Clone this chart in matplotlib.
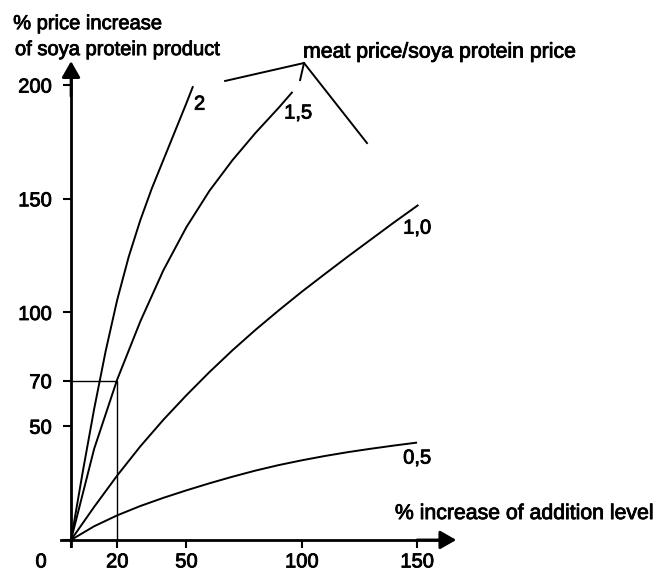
import matplotlib
matplotlib.use("Agg")
import matplotlib.pyplot as plt
import matplotlib.patheffects as pe

# curves: % increase of addition level -> % price increase
ratio_labels = ["2", "1,5", "1,0", "0,5"]
x_r20 = [0, 5, 10, 15, 20, 25, 30, 35, 40, 45, 50, 52.9]
y_r20 = [0, 29.5, 57.5, 83, 105.5, 124.5, 140.5, 154.5, 167, 179.5, 192, 199.5]
x_r15 = [0, 10, 20, 30, 40, 50, 60, 70, 80, 90, 96]
y_r15 = [0, 40, 70.5, 96, 118.5, 137.5, 153.5, 167, 179, 190, 197]
x_r10 = [0, 10, 20, 30, 40, 50, 60, 70, 80, 90, 100, 110, 120, 130, 140, 150.6]
y_r10 = [0, 14.5, 28.3, 41.1, 52.8, 63.6, 73.8, 83.4, 92.4, 100.9, 109.1, 116.9,
         124.6, 132.1, 139.6, 147.3]
x_r05 = [0, 10, 20, 30, 40, 50, 60, 70, 80, 90, 100, 110, 120, 130, 140, 150]
y_r05 = [0, 6, 10.8, 14.9, 18.5, 21.8, 24.9, 27.8, 30.5, 32.9, 35, 36.9, 38.6,
         40.1, 41.5, 42.8]

x_ticks = [0, 20, 50, 100, 150]
x_ticklabels = ["", "20", "50", "100", "150"]
y_ticks = [0, 50, 70, 100, 150, 200]
y_ticklabels = ["", "50", "70", "100", "150", "200"]

# worked example marked on the 1,5 curve
example_x = 20
example_y = 70

plt.rcParams["font.family"] = ["Liberation Sans", "DejaVu Sans"]
plt.rcParams["font.size"] = 14.5

# scanned print looks a bit heavier than the regular face
heavy = [pe.withStroke(linewidth=0.6, foreground="black")]

fig = plt.figure(figsize=(6.56, 5.72), dpi=100)
ax = fig.add_axes([0, 0, 1, 1])
ax.set_xlim(-30.8, 253.6)
ax.set_ylim(-14.1, 237.4)

for side in ["top", "right"]:
    ax.spines[side].set_visible(False)
ax.spines["left"].set_position(("data", 0))
ax.spines["bottom"].set_position(("data", 0))
ax.spines["left"].set_bounds(-2.5, 203)
ax.spines["bottom"].set_bounds(-4.5, 160)
for side in ["left", "bottom"]:
    ax.spines[side].set_linewidth(2.0)

ax.set_xticks(x_ticks)
ax.set_xticklabels(x_ticklabels)
ax.set_yticks(y_ticks)
ax.set_yticklabels(y_ticklabels)
ax.tick_params(axis="x", direction="out", length=6, width=1.5, pad=3)
ax.tick_params(axis="y", direction="out", length=6, width=1.5, pad=8)
for lab in ax.get_xticklabels() + ax.get_yticklabels():
    lab.set_path_effects(heavy)

arrow = dict(arrowstyle="-|>,head_length=0.7,head_width=0.4", mutation_scale=14,
             color="black", lw=2.0, shrinkA=0, shrinkB=0)
ax.annotate("", xy=(0, 210.5), xytext=(0, 195), arrowprops=arrow)
ax.annotate("", xy=(167, 0), xytext=(150, 0), arrowprops=arrow)

for xs, ys in [(x_r20, y_r20), (x_r15, y_r15), (x_r10, y_r10), (x_r05, y_r05)]:
    ax.plot(xs, ys, color="black", lw=1.4, solid_capstyle="butt",
            solid_joinstyle="round")

ax.plot([0, example_x, example_x], [example_y, example_y, 0], color="black", lw=1.0)

# curve labels
ax.text(53.3, 191.6, ratio_labels[0], va="center", ha="left", path_effects=heavy)
ax.text(98.4, 187.7, ratio_labels[1], va="center", ha="center", path_effects=heavy)
ax.text(150, 137.1, ratio_labels[2], va="center", ha="center", path_effects=heavy)
ax.text(150, 36, ratio_labels[3], va="center", ha="center", path_effects=heavy)

# leader lines to the curve family
ax.plot([66.8, 101, 128.3], [201.8, 209.7, 174.5], color="black", lw=1.4)
ax.plot([101, 99.3], [209.7, 202.2], color="black", lw=1.4)
ax.text(100.6, 214.5, "meat price/soya protein price", va="center", ha="left",
        fontsize=15.3, path_effects=heavy)

ax.text(-25.1, 227, "% price increase", va="center", ha="left", path_effects=heavy)
ax.text(-24.3, 215.6, "of soya protein product", va="center", ha="left",
        path_effects=heavy)
ax.text(140.4, 11.6, "% increase of addition level", va="center", ha="left",
        fontsize=15.3, path_effects=heavy)
ax.text(-13, -9.7, "0", va="center", ha="center", path_effects=heavy)

fig.savefig("out.png", dpi=100)
